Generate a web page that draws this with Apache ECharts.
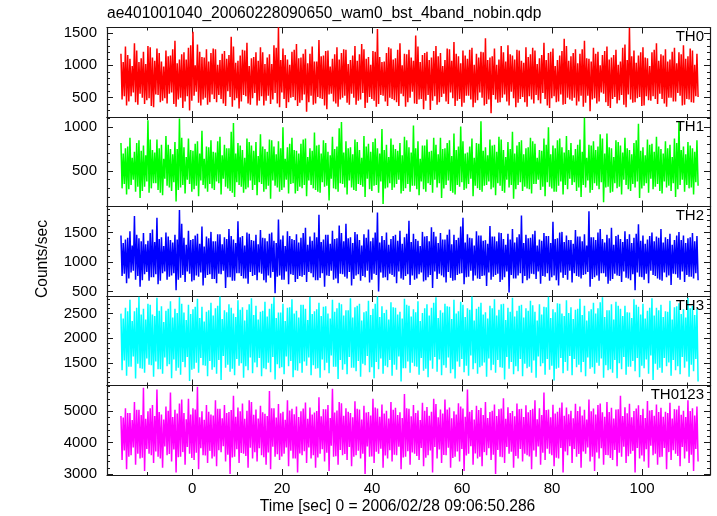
<!DOCTYPE html>
<html><head><meta charset="utf-8">
<script src="https://cdn.jsdelivr.net/npm/echarts@6/dist/echarts.min.js"></script>
<style>html,body{margin:0;padding:0;background:#fff}#c{width:717px;height:516px}</style>
</head><body><div id="c"></div>
<script>
const TITLE = 'ae401001040_20060228090650_wam0_bst_4band_nobin.qdp';
const X_NAME = 'Time [sec] 0 = 2006/02/28 09:06:50.286';
const Y_NAME = 'Counts/sec';
const bandNames = ['TH0', 'TH1', 'TH2', 'TH3', 'TH0123'];
const bandColors = ['#ff0000', '#00ff00', '#0000ff', '#00ffff', '#ff00ff'];
// four samples per second: A at t, B at t+0.25, C at t+0.5, D at t+0.75 (t = timeStart + i)
const timeStart = -15.8;
const timeStep = 1;
const xMin = -18.9, xMax = 115.1;
const xTicks = [0, 20, 40, 60, 80, 100];
const xMinorTicks = [-10, 10, 30, 50, 70, 90, 110];
const yRanges = [[200, 1585], [92, 1118], [422, 1941], [1040, 2858], [2970, 5824]];
const yTicks = [[500, 1000, 1500], [500, 1000], [500, 1000, 1500], [1500, 2000, 2500], [3000, 4000, 5000]];
const yMinorTicks = [
  [300, 400, 600, 700, 800, 900, 1100, 1200, 1300, 1400],
  [100, 200, 300, 400, 600, 700, 800, 900, 1100],
  [600, 700, 800, 900, 1100, 1200, 1300, 1400, 1600, 1700, 1800, 1900],
  [1100, 1200, 1300, 1400, 1600, 1700, 1800, 1900, 2100, 2200, 2300, 2400, 2600, 2700, 2800],
  [3200, 3400, 3600, 3800, 4200, 4400, 4600, 4800, 5200, 5400, 5600, 5800]
];

// ---------- TH0 ----------
const th0A = [
1180,1290,1100,1340,1050,1210,1300,1120,1260,1060,
1230,1150,1380,1090,1200,1270,1520,1320,1130,1250,
1190,1250,1080,1220,1160,1290,1070,1240,1350,1110,
1200,1280,1020,1170,1310,1590,1260,1090,1210,1330,
1120,1250,1180,1060,1390,1150,1230,1100,1280,1190,
1240,1080,1300,1170,1250,1130,1220,1560,1050,1190,
1260,1110,1340,1180,1240,1070,1290,1160,1210,1120,
1300,1190,1080,1250,1360,1140,1230,1100,1270,1180,
1210,1420,1120,1260,1090,1200,1310,1150,1240,1070,
1280,1170,1230,1110,1350,1190,1260,1080,1220,1300,
1140,1250,1180,1380,1100,1270,1210,1160,1290,1120,
1240,1060,1320,1580,1230,1150,1280,1110,1200,1340,
1170,1250,1090,1270,1200,1310,1140,1230,1180];
const th0B = [
470,380,520,430,560,400,490,350,540,450,
410,580,360,500,440,300,530,420,470,390,
550,430,480,370,510,460,330,540,410,490,
380,520,450,400,570,350,480,430,510,370,
460,280,530,410,490,380,550,440,360,500,
420,560,390,470,340,510,450,400,530,370,
480,430,560,360,500,410,470,320,540,450,
390,510,440,580,370,480,420,530,350,460,
500,400,260,470,430,550,380,490,420,510,
360,470,540,410,480,340,520,440,390,500,
450,380,530,420,290,490,440,560,370,480,
410,540,350,470,430,510,380,460,520,400,
480,360,500,440,530,390,470,420,510];
const th0C = [
1050,1160,990,1230,1110,1020,1280,1070,1190,980,
1140,1250,1030,1170,1090,1310,1000,1210,1120,1060,
1260,1010,1180,1100,1440,1040,1150,1230,990,1130,
1070,1200,1120,1020,1270,1080,1160,1010,1240,1110,
1180,1030,1290,1060,1140,1220,980,1170,1090,1250,
1020,1150,1070,1330,1100,1010,1210,1130,1060,1280,
1090,1240,1000,1170,1120,1460,1050,1190,1080,1220,
1140,990,1260,1070,1180,1030,1150,1240,1010,1120,
1200,1080,1140,1010,1300,1060,1170,1090,1230,1040,
1130,1270,1020,1160,1080,1210,990,1150,1410,1070,
1190,1030,1250,1110,1060,1180,1000,1220,1090,1160,
1010,1270,1080,1140,1040,1200,1120,990,1240,1070,
1150,1060,1210,1030,1170,1100,1260,1010];
const th0D = [
520,440,580,390,500,460,370,550,430,490,
560,400,470,340,520,450,590,380,500,430,
480,540,410,600,360,490,440,520,390,570,
450,380,530,470,410,580,340,500,460,420,
550,430,390,510,480,320,560,410,470,530,
390,500,450,570,420,480,360,540,440,500,
460,370,520,430,590,400,480,450,310,520,
430,560,400,490,450,360,530,470,420,580,
380,470,540,420,500,440,590,350,480,430,
520,410,460,570,380,490,430,550,400,470,
500,440,360,530,470,410,580,430,340,510,
460,390,550,420,490,370,520,450,480,560,
410,500,440,570,380,480,430,520];

// ---------- TH1 ----------
const th1A = [
820,760,880,720,850,790,1080,740,860,800,
900,750,830,1100,770,870,730,840,960,780,
850,710,890,800,760,1050,820,740,870,790,
830,920,750,860,780,840,1000,770,880,730,
810,870,760,940,800,850,720,890,780,1060,
840,770,860,740,900,810,830,760,980,800,
870,750,820,890,770,1020,840,790,860,730,
800,880,760,850,930,780,840,710,870,820,
1070,770,860,800,890,740,830,950,790,850,
760,880,810,740,870,1000,790,850,770,900,
820,750,860,1110,800,840,780,870,930,760,
850,790,880,740,820,1040,770,860,810,890,
750,840,800,870,1060,780,830,760,850];
const th1B = [
300,230,340,260,190,320,250,360,280,220,
330,270,150,310,240,350,290,210,340,260,
300,380,230,320,270,200,340,250,310,280,
220,350,290,180,330,260,310,240,360,270,
300,210,340,280,250,320,160,300,260,350,
230,310,270,340,200,290,330,250,120,310,
280,350,240,300,260,330,220,290,360,250,
310,190,340,270,230,320,280,350,210,300,
260,340,290,220,330,250,310,180,340,270,
300,240,350,280,210,320,260,330,230,290,
340,270,200,310,250,360,290,140,320,260,
300,230,340,270,310,190,330,250,290,350,
240,310,270,200,340,260,300,230,330];
const th1C = [
700,780,650,820,730,680,860,710,760,640,
800,690,750,880,660,740,810,700,640,770,
720,840,680,760,950,700,790,650,830,730,
670,780,720,850,690,760,640,810,740,700,
860,660,730,790,700,820,680,750,990,710,
760,690,830,650,780,720,870,700,740,660,
800,730,680,850,710,760,640,790,720,880,
690,750,820,670,740,1010,700,780,650,810,
730,680,790,720,860,660,750,700,830,690,
770,840,650,730,800,690,760,870,710,740,
680,800,720,650,790,740,920,700,770,660,
830,710,760,690,850,730,680,800,720,780,
700,760,660,820,740,690,790,720];
const th1D = [
350,290,400,320,270,380,300,360,250,410,
310,370,280,340,400,260,330,390,300,350,
280,360,410,300,250,370,320,290,390,340,
370,260,330,390,310,280,400,350,240,320,
340,390,300,260,370,330,410,290,360,310,
390,280,350,320,410,270,340,380,300,360,
310,400,270,350,330,290,380,260,340,400,
360,300,390,250,340,370,300,410,330,280,
330,380,310,360,270,400,340,290,370,320,
290,350,400,320,370,300,260,380,340,410,
370,310,340,390,280,330,370,310,250,360,
320,400,290,350,380,300,360,410,320,270,
380,330,360,290,400,340,310,370];

// ---------- TH2 ----------
const th2A = [
1450,1380,1520,1780,1400,1490,1360,1550,1750,1420,
1500,1370,1460,1880,1410,1530,1390,1480,1600,1430,
1510,1350,1470,1420,1560,1380,1690,1440,1500,1370,
1460,1540,1400,1480,1360,1720,1450,1520,1390,1470,
1410,1580,1430,1500,1800,1380,1460,1530,1400,1490,
1650,1420,1510,1370,1470,1550,1410,1840,1440,1500,
1390,1460,1530,1420,1700,1480,1360,1510,1440,1590,
1430,1490,1380,1550,1460,1410,1750,1470,1400,1520,
1450,1370,1610,1430,1500,1390,1480,1560,1420,1790,
1460,1410,1530,1380,1490,1440,1680,1400,1510,1450,
1370,1540,1430,1470,1860,1420,1500,1390,1460,1580,
1440,1390,1520,1470,1410,1640,1450,1380,1500,1430,
1560,1420,1480,1370,1510,1450,1400,1490,1440];
const th2B = [
760,640,820,700,580,790,680,740,620,810,
700,770,520,730,660,800,690,750,600,780,
710,640,790,560,740,680,810,720,630,760,
690,800,650,730,470,770,700,620,780,710,
750,660,810,690,730,580,760,700,640,790,
720,600,770,680,740,650,800,500,730,690,
780,640,720,760,610,700,790,670,740,560,
710,770,650,730,690,800,620,750,680,720,
760,590,700,780,660,740,480,720,770,640,
690,800,710,630,750,680,770,600,730,700,
650,760,720,790,580,740,680,810,630,710,
770,660,730,690,520,750,700,640,780,720,
680,740,610,790,700,660,750,720,690];
const th2C = [
1320,1410,1280,1460,1350,1300,1490,1340,1390,1270,
1430,1330,1380,1650,1290,1370,1450,1310,1260,1400,
1350,1470,1300,1390,1440,1320,1420,1280,1480,1360,
1300,1410,1350,1500,1320,1380,1270,1440,1370,1330,
1490,1290,1360,1420,1340,1460,1310,1390,1620,1350,
1400,1320,1470,1280,1410,1350,1500,1330,1370,1290,
1440,1360,1310,1480,1340,1390,1270,1430,1350,1510,
1320,1380,1460,1300,1370,1600,1330,1410,1280,1450,
1360,1310,1430,1350,1490,1290,1380,1330,1470,1320,
1400,1470,1280,1360,1440,1320,1390,1500,1340,1370,
1310,1430,1350,1280,1420,1370,1560,1330,1400,1290,
1460,1340,1390,1320,1480,1360,1310,1440,1350,1410,
1330,1390,1290,1450,1370,1320,1420,1350];
const th2D = [
800,720,850,760,690,830,740,790,680,840,
750,810,700,780,840,670,770,820,730,790,
710,800,850,740,680,810,760,720,830,780,
820,690,770,830,750,700,840,790,660,760,
780,830,740,690,810,770,850,720,800,750,
830,710,790,760,850,700,780,820,740,800,
750,840,700,790,770,720,820,690,780,840,
800,740,830,680,780,810,740,850,770,710,
770,820,750,800,700,840,780,720,810,760,
720,790,840,760,810,740,690,820,780,850,
810,750,780,830,710,770,810,750,680,800,
760,840,720,790,820,740,800,850,760,700,
820,770,800,730,840,780,750,810];

// ---------- TH3 ----------
const th3A = [
2500,2620,2780,2550,2840,2600,2700,2480,2820,2650,
2560,2750,2600,2830,2520,2680,2590,2800,2640,2540,
2720,2610,2850,2570,2690,2500,2770,2630,2580,2810,
2660,2540,2740,2600,2830,2520,2700,2620,2790,2560,
2680,2600,2840,2550,2720,2640,2500,2780,2610,2690,
2570,2810,2630,2700,2530,2760,2600,2850,2650,2580,
2730,2620,2540,2800,2660,2590,2750,2510,2690,2620,
2830,2570,2700,2640,2780,2550,2680,2610,2850,2600,
2720,2530,2660,2790,2580,2700,2620,2820,2560,2680,
2610,2760,2540,2690,2640,2840,2590,2710,2500,2770,
2630,2580,2800,2660,2550,2720,2610,2830,2570,2690,
2740,2600,2660,2520,2790,2640,2700,2560,2810,2620,
2680,2550,2760,2630,2710,2590,2820,2660,2600];
const th3B = [
1350,1240,1420,1180,1390,1300,1460,1220,1370,1280,
1430,1190,1340,1260,1410,1130,1380,1300,1450,1230,
1360,1280,1150,1400,1320,1250,1440,1200,1350,1290,
1410,1230,1370,1310,1160,1390,1270,1430,1210,1340,
1300,1440,1250,1380,1200,1350,1290,1420,1170,1360,
1270,1400,1330,1220,1450,1310,1190,1370,1280,1410,
1240,1360,1120,1390,1300,1430,1260,1340,1210,1380,
1320,1250,1400,1290,1180,1420,1310,1240,1370,1280,
1440,1220,1350,1300,1410,1160,1380,1270,1330,1230,
1390,1300,1200,1430,1260,1360,1140,1400,1290,1340,
1250,1410,1310,1230,1380,1280,1440,1200,1350,1300,
1190,1370,1260,1420,1330,1210,1390,1280,1150,1360,
1300,1430,1240,1350,1270,1400,1220,1330,1120];
const th3C = [
2400,2550,2350,2620,2480,2380,2680,2450,2560,2330,
2600,2420,2510,2700,2370,2490,2640,2410,2340,2570,
2460,2660,2390,2530,2620,2430,2580,2360,2690,2470,
2380,2560,2440,2700,2410,2520,2350,2630,2500,2420,
2680,2370,2490,2590,2450,2650,2400,2540,2720,2460,
2570,2420,2660,2360,2550,2470,2700,2430,2510,2380,
2630,2480,2400,2680,2440,2530,2350,2610,2460,2720,
2410,2520,2650,2390,2500,2740,2430,2580,2360,2640,
2480,2400,2610,2460,2690,2370,2540,2440,2660,2420,
2560,2670,2360,2480,2630,2410,2530,2700,2450,2510,
2390,2600,2470,2360,2590,2500,2730,2430,2570,2380,
2660,2450,2530,2410,2680,2480,2400,2620,2460,2570,
2430,2540,2380,2650,2490,2420,2610,2470];
const th3D = [
1550,1420,1630,1480,1380,1590,1450,1530,1370,1610,
1470,1570,1400,1520,1620,1360,1500,1600,1440,1540,
1410,1560,1640,1460,1380,1580,1490,1430,1610,1510,
1600,1390,1500,1620,1470,1410,1630,1540,1350,1490,
1530,1610,1450,1390,1570,1500,1650,1420,1560,1470,
1620,1400,1540,1480,1640,1410,1520,1590,1440,1560,
1460,1630,1390,1530,1500,1420,1600,1380,1550,1620,
1570,1450,1610,1370,1530,1580,1440,1650,1490,1410,
1510,1590,1460,1560,1400,1620,1520,1430,1580,1480,
1420,1550,1630,1490,1580,1440,1380,1600,1520,1640,
1580,1460,1520,1610,1410,1500,1590,1450,1370,1560,
1490,1620,1420,1540,1600,1440,1570,1650,1480,1400,
1600,1510,1560,1430,1620,1530,1460,1580];

// ---------- TH0123 ----------
const th0123A = [
4850,5100,4950,5300,5050,5750,5000,5200,5700,4900,
5150,5600,5050,5250,4950,5400,5100,5780,5000,5200,
4900,5350,5080,5200,4980,5500,5120,5250,5020,5300,
5060,5180,4920,5650,5100,5230,4990,5350,5080,5150,
5000,5280,5120,4960,5450,5070,5200,5720,5030,5260,
5100,4950,5320,5060,5180,4980,5400,5090,5220,5020,
5300,5110,4970,5550,5080,5200,5030,5270,5140,4990,
5230,5060,5380,5120,5000,5260,5090,5700,5040,5180,
5110,5300,4980,5220,5070,5420,5130,5010,5250,5080,
5190,5040,5350,5100,5600,5060,5210,4990,5280,5120,
5020,5240,5150,5050,5380,5090,5200,4970,5300,5110,
5060,5500,5130,5240,5010,5190,5080,5330,5040,5220,
5110,4990,5270,5070,5180,5020,5350,5100,5150];
const th0123B = [
3450,3150,3600,3300,3500,3100,3650,3350,3550,3200,
3600,3400,3050,3550,3300,3650,3450,3150,3600,3350,
3500,3250,3700,3400,3000,3550,3350,3650,3200,3500,
3400,3600,3300,3150,3550,3450,3650,3250,3500,3050,
3600,3350,3500,3200,3650,3400,3100,3550,3300,3600,
3450,3250,3600,3500,3000,3550,3350,3650,3200,3500,
3400,3600,3150,3550,3300,3650,3450,3250,3600,3050,
3500,3350,3600,3200,3550,3400,3100,3650,3300,3500,
3250,3600,3450,3000,3550,3350,3650,3200,3500,3400,
3600,3150,3550,3300,3450,3650,3250,3500,3050,3600,
3350,3550,3200,3650,3400,3100,3500,3300,3600,3450,
3250,3550,3350,3650,3050,3500,3400,3200,3600,3300,
3550,3150,3450,3650,3250,3500,3350,3100,3400];
const th0123C = [
4800,4950,4720,5050,4880,4760,5100,4850,4980,4740,
5020,4820,4930,5380,4750,4900,5060,4810,4730,4990,
4870,5080,4780,4950,5040,4830,5000,4760,5350,4890,
4770,4970,4850,5100,4800,4940,4730,5030,4910,4820,
5090,4760,4900,5010,4840,5070,4790,4960,5300,4860,
4990,4810,5080,4740,4960,4870,5120,4830,4930,4770,
5050,4880,4790,5100,4840,4950,4720,5020,4860,5400,
4810,4930,5060,4780,4900,5150,4830,4990,4740,5040,
4880,4790,5020,4850,5090,4760,4950,4840,5070,4820,
4970,5080,4750,4880,5040,4810,4930,5110,4860,4910,
4780,5010,4870,4740,5000,4900,5250,4830,4980,4770,
5070,4850,4940,4810,5090,4880,4790,5030,4860,4980,
4830,4950,4770,5060,4890,4820,5010,4870];
const th0123D = [
3750,3550,3850,3650,3520,3800,3600,3720,3500,3880,
3640,3780,3540,3700,3860,3510,3680,3820,3590,3740,
3560,3760,3890,3620,3530,3790,3670,3580,3840,3700,
3820,3540,3690,3870,3630,3560,3850,3740,3500,3660,
3730,3850,3600,3530,3790,3680,3900,3570,3770,3640,
3860,3550,3740,3650,3880,3560,3710,3810,3590,3760,
3620,3870,3530,3730,3690,3580,3830,3520,3750,3860,
3780,3610,3840,3510,3720,3800,3590,3890,3660,3550,
3700,3820,3620,3770,3540,3860,3710,3580,3800,3650,
3560,3750,3880,3680,3810,3600,3520,3830,3720,3890,
3800,3640,3720,3850,3550,3690,3820,3610,3510,3770,
3680,3870,3570,3740,3830,3590,3790,3900,3650,3540,
3830,3700,3760,3580,3860,3720,3620,3800];

const samples = [
  [th0A, th0B, th0C, th0D],
  [th1A, th1B, th1C, th1D],
  [th2A, th2B, th2C, th2D],
  [th3A, th3B, th3C, th3D],
  [th0123A, th0123B, th0123C, th0123D]
];

// ---- layout ----
const FONT = '"Liberation Sans", Arial, Helvetica, sans-serif';
const FS = 15;
const FS_NAME = 15.6;
const gridLeft = 107, gridRight = 7, gridTop0 = 27.5, gridH = 89.5;
const frameColor = '#1a1a1a';

function seriesData(k) {
  const d = [];
  const parts = samples[k];
  const n = parts[0].length;
  for (let i = 0; i < n; i++) {
    for (let j = 0; j < parts.length; j++) {
      if (i < parts[j].length) d.push([timeStart + i * timeStep + j * timeStep / parts.length, parts[j][i]]);
    }
  }
  return d;
}

const grids = [], xAxes = [], yAxes = [], seriesList = [], graphics = [];
for (let g = 0; g < 5; g++) {
  const top = gridTop0 + g * gridH;
  grids.push({ left: gridLeft, right: gridRight, top: top, height: gridH, containLabel: false });
  const lineOn = { show: true, onZero: false, lineStyle: { color: frameColor, width: 1.2 } };
  const lineOff = { show: false, onZero: false };
  const mkX = (pos, vals, len, showLine, labels) => ({
    type: 'value', gridIndex: g, position: pos, min: xMin, max: xMax,
    axisLine: showLine ? lineOn : lineOff,
    axisTick: { show: true, inside: true, length: len, customValues: vals, lineStyle: { color: frameColor, width: 1 } },
    axisLabel: labels ? { show: true, customValues: vals, margin: 6, color: '#000', fontSize: FS, fontFamily: FONT, formatter: v => String(v) } : { show: false },
    splitLine: { show: false }, minorTick: { show: false }
  });
  xAxes.push(mkX('bottom', xTicks, 6, true, g === 4));
  xAxes.push(mkX('bottom', xMinorTicks, 3, false, false));
  xAxes.push(mkX('top', xTicks, 6, true, false));
  xAxes.push(mkX('top', xMinorTicks, 3, false, false));
  const [ymin, ymax] = yRanges[g];
  const mkY = (pos, vals, len, showLine, labels) => ({
    type: 'value', gridIndex: g, position: pos, min: ymin, max: ymax,
    axisLine: showLine ? lineOn : lineOff,
    axisTick: { show: true, inside: true, length: len, customValues: vals, lineStyle: { color: frameColor, width: 1 } },
    axisLabel: labels ? { show: true, customValues: vals, margin: 10, color: '#000', fontSize: FS, fontFamily: FONT, formatter: v => String(v) } : { show: false },
    splitLine: { show: false }, minorTick: { show: false }
  });
  yAxes.push(mkY('left', yTicks[g], 6, true, true));
  yAxes.push(mkY('left', yMinorTicks[g], 3, false, false));
  yAxes.push(mkY('right', yTicks[g], 6, true, false));
  yAxes.push(mkY('right', yMinorTicks[g], 3, false, false));

  seriesList.push({
    type: 'line', name: bandNames[g], xAxisIndex: 4 * g, yAxisIndex: 4 * g,
    data: seriesData(g), symbol: 'none', showSymbol: false, sampling: null,
    lineStyle: { color: bandColors[g], width: 1.5, join: 'bevel' }, itemStyle: { color: bandColors[g] },
    clip: true, silent: true, z: 1
  });

  graphics.push({
    type: 'text', x: 704, y: top + 9.5, z: 100,
    style: { text: bandNames[g], fill: '#000', font: FS + 'px ' + FONT, align: 'right', verticalAlign: 'middle', textAlign: 'right', textVerticalAlign: 'middle' }
  });
}

graphics.push({
  type: 'text', x: 107, y: 14, z: 100,
  style: { text: TITLE, fill: '#000', font: FS_NAME + 'px ' + FONT, align: 'left', verticalAlign: 'middle', textAlign: 'left', textVerticalAlign: 'middle' }
});
graphics.push({
  type: 'text', x: 397.5, y: 507, z: 100,
  style: { text: X_NAME, fill: '#000', font: FS_NAME + 'px ' + FONT, align: 'center', verticalAlign: 'middle', textAlign: 'center', textVerticalAlign: 'middle' }
});
graphics.push({
  type: 'text', x: 43, y: 259, rotation: Math.PI / 2, z: 100,
  style: { text: Y_NAME, fill: '#000', font: FS_NAME + 'px ' + FONT, align: 'center', verticalAlign: 'middle', textAlign: 'center', textVerticalAlign: 'middle' }
});

const chart = echarts.init(document.getElementById('c'), null, { renderer: 'canvas' });
chart.setOption({
  animation: false,
  backgroundColor: '#fff',
  grid: grids, xAxis: xAxes, yAxis: yAxes, series: seriesList, graphic: graphics
});
</script></body></html>
